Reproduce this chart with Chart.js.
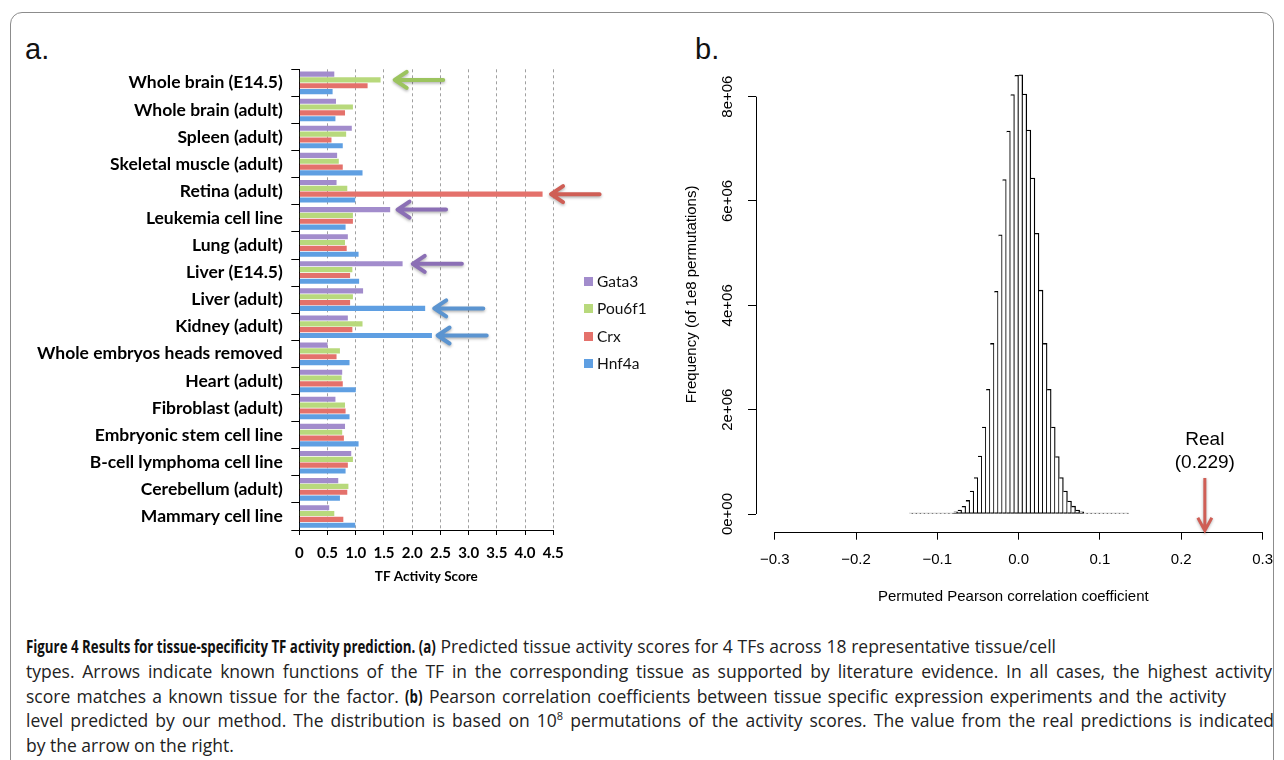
<!DOCTYPE html>
<html>
<head>
<meta charset="utf-8">
<script src="https://cdn.jsdelivr.net/npm/chart.js@4.4.1/dist/chart.umd.min.js"></script>
<style>
  body { margin: 0; width: 1284px; height: 760px; background: #fff; position: relative; overflow: hidden; }
  #frame { position: absolute; left: 10px; top: 12px; width: 1262px; height: 800px; border: 1px solid #8c8c8c; border-radius: 12px; }
  .tag { position: absolute; top: 35px; font-family: "Liberation Sans", Arial, sans-serif; font-size: 29px; line-height: 29px; color: #111; }
  #boxA { position: absolute; left: 0; top: 52px; }
  #boxB { position: absolute; left: 680px; top: 55px; }
  #legendA { position: absolute; left: 584px; top: 272px; font-family: Lato, sans-serif; font-size: 15.5px; color: #111; }
  #legendA div { height: 27.3px; line-height: 18px; white-space: nowrap; }
  #legendA span { display: inline-block; width: 9px; height: 9px; margin-right: 4px; vertical-align: 1px; }
  #caption { position: absolute; left: 26px; top: 634px; font-family: "Open Sans", sans-serif; font-size: 17.5px; line-height: 24.8px; color: #222; }
  #caption div { white-space: nowrap; height: 24.8px; }
  #caption div span { display: inline-block; }
  #caption b { color: #111; display: inline-block; word-spacing: 0; transform-origin: 0 50%; }
  #caption sup { font-size: 11px; line-height: 0; }
</style>
</head>
<body>
<div id="frame"></div>
<div class="tag" style="left:25px">a.</div>
<div class="tag" style="left:695px">b.</div>
<canvas id="boxA" width="680" height="548"></canvas>
<div id="legendA"></div>
<canvas id="boxB" width="604" height="555"></canvas>
<div id="caption">
  <div><span><b>Figure 4 Results for tissue-specificity TF activity prediction. (a)</b> Predicted tissue activity scores for 4 TFs across 18 representative tissue/cell</span></div>
  <div><span>types. Arrows indicate known functions of the TF in the corresponding tissue as supported by literature evidence. In all cases, the highest activity</span></div>
  <div><span>score matches a known tissue for the factor. <b>(b)</b> Pearson correlation coefficients between tissue specific expression experiments and the activity</span></div>
  <div><span>level predicted by our method. The distribution is based on 10<sup>8</sup> permutations of the activity scores. The value from the real predictions is indicated</span></div>
  <div><span>by the arrow on the right.</span></div>
</div>
<script>
// ---- panel a: activity scores ----
const tissues = ['Whole brain (E14.5)', 'Whole brain (adult)', 'Spleen (adult)', 'Skeletal muscle (adult)',
  'Retina (adult)', 'Leukemia cell line', 'Lung (adult)', 'Liver (E14.5)', 'Liver (adult)', 'Kidney (adult)',
  'Whole embryos heads removed', 'Heart (adult)', 'Fibroblast (adult)', 'Embryonic stem cell line',
  'B-cell lymphoma cell line', 'Cerebellum (adult)', 'Mammary cell line'];
const tfNames = ['Gata3', 'Pou6f1', 'Crx', 'Hnf4a'];
const gata3  = [0.62, 0.65, 0.93, 0.67, 0.66, 1.61, 0.86, 1.83, 1.13, 0.86, 0.50, 0.76, 0.64, 0.81, 0.92, 0.69, 0.53];
const pou6f1 = [1.44, 0.95, 0.83, 0.70, 0.85, 0.95, 0.81, 0.94, 0.95, 1.12, 0.72, 0.75, 0.81, 0.76, 0.95, 0.87, 0.62];
const crx    = [1.21, 0.81, 0.57, 0.77, 4.31, 0.95, 0.84, 0.90, 0.90, 0.94, 0.66, 0.77, 0.82, 0.79, 0.86, 0.85, 0.78];
const hnf4a  = [0.59, 0.64, 0.77, 1.12, 0.99, 0.82, 1.05, 1.06, 2.23, 2.35, 0.89, 1.00, 0.89, 1.05, 0.82, 0.72, 0.99];
const scoreTicks = [0, 0.5, 1, 1.5, 2, 2.5, 3, 3.5, 4, 4.5];

// arrows marking known tissue functions
const arrowTissue = ['Whole brain (E14.5)', 'Retina (adult)', 'Leukemia cell line', 'Liver (E14.5)', 'Liver (adult)', 'Kidney (adult)'];
const arrowTF     = ['Pou6f1', 'Crx', 'Gata3', 'Gata3', 'Hnf4a', 'Hnf4a'];
const arrowHead   = [1.69, 4.46, 1.74, 2.01, 2.39, 2.45];
const arrowTail   = [2.55, 5.32, 2.60, 2.88, 3.26, 3.32];

// ---- panel b: permutation histogram ----
const binCenters = [-0.1325, -0.1275, -0.1225, -0.1175, -0.1125, -0.1075, -0.1025, -0.0975, -0.0925,
  -0.0875, -0.0825, -0.0775, -0.0725, -0.0675, -0.0625, -0.0575, -0.0525, -0.0475, -0.0425, -0.0375,
  -0.0325, -0.0275, -0.0225, -0.0175, -0.0125, -0.0075, -0.0025,
  0.0025, 0.0075, 0.0125, 0.0175, 0.0225, 0.0275, 0.0325, 0.0375, 0.0425, 0.0475, 0.0525, 0.0575,
  0.0625, 0.0675, 0.0725, 0.0775, 0.0825, 0.0875, 0.0925, 0.0975, 0.1025, 0.1075, 0.1125, 0.1175,
  0.1225, 0.1275, 0.1325];
const binCounts = [20, 40, 80, 150, 300, 600, 1200, 2500, 5000,
  10000, 20000, 40000, 77000, 147000, 260000, 440000, 700000, 1110000, 1665000, 2390000,
  3270000, 4270000, 5350000, 6410000, 7340000, 8040000, 8410000,
  8420000, 8050000, 7360000, 6440000, 5380000, 4290000, 3270000, 2390000, 1665000, 1100000, 700000, 440000,
  250000, 150000, 77000, 40000, 20000, 10000, 5000, 2500, 1200, 600, 300, 150,
  80, 40, 20];
const corrTicks = [-0.3, -0.2, -0.1, 0, 0.1, 0.2, 0.3];
const freqTicks = [0, 2e6, 4e6, 6e6, 8e6];
const freqTickLabels = ['0e+00', '2e+06', '4e+06', '6e+06', '8e+06'];
const realValue = 0.229;

const tfColors = ['#a28ccc', '#b8d97c', '#e4716b', '#5f9fe2'];
const arrowColors = ['#8b6fb5', '#9cc45f', '#cf5e55', '#5b94d0'];
const boldCal = { family: 'Lato', weight: 'bold', size: 15 };
const helv = { family: '"Liberation Sans"', size: 15 };
// right edge (page x) of each caption line, and squeeze of the bold run-in heading
const captionLineEnds = [1056, 1272, 1226, 1274, null];
const boldSqueeze = 0.76;

// legend for panel a
document.getElementById('legendA').innerHTML = tfNames.map((n, i) =>
  '<div><span style="background:' + tfColors[i] + '"></span>' + n + '</div>').join('');

function setCaption() {
  // condensed bold heading
  document.querySelectorAll('#caption b').forEach(b => {
    const w = b.getBoundingClientRect().width;
    b.style.transform = 'scaleX(' + boldSqueeze + ')';
    b.style.marginRight = (-(1 - boldSqueeze) * w) + 'px';
  });
  // stretch lines with word spacing, like the typeset original
  document.querySelectorAll('#caption div span').forEach((line, i) => {
    if (!captionLineEnds[i]) return;
    let spaces = (line.textContent.match(/ /g) || []).length;
    line.querySelectorAll('b').forEach(b => { spaces -= (b.textContent.match(/ /g) || []).length; });
    const extra = captionLineEnds[i] - line.getBoundingClientRect().right;
    line.style.wordSpacing = Math.max(0, extra / spaces) + 'px';
  });
}

const arrowPlugin = {
  id: 'tfArrows',
  afterDatasetsDraw(chart) {
    const { ctx, scales: { x } } = chart;
    arrowTissue.forEach((t, i) => {
      const ds = tfNames.indexOf(arrowTF[i]);
      const bar = chart.getDatasetMeta(ds).data[tissues.indexOf(t)];
      const y = bar.y;
      const xh = x.getPixelForValue(arrowHead[i]);
      const xt = x.getPixelForValue(arrowTail[i]);
      ctx.save();
      ctx.strokeStyle = arrowColors[ds];
      ctx.lineWidth = 4;
      ctx.lineCap = 'round';
      ctx.lineJoin = 'round';
      ctx.shadowColor = 'rgba(0,0,0,0.3)';
      ctx.shadowBlur = 3;
      ctx.shadowOffsetY = 1.5;
      ctx.beginPath();
      ctx.moveTo(xt, y);
      ctx.lineTo(xh + 1, y);
      ctx.moveTo(xh + 12, y - 8);
      ctx.lineTo(xh, y);
      ctx.lineTo(xh + 12, y + 8);
      ctx.stroke();
      ctx.restore();
    });
  }
};

const rAxesPlugin = {
  id: 'rAxes',
  afterDraw(chart) {
    const { ctx, chartArea, scales: { x, y } } = chart;
    ctx.save();
    ctx.strokeStyle = '#000';
    ctx.lineWidth = 1;
    const by = Math.round(chartArea.bottom) + 0.5;
    const lx = Math.round(chartArea.left) + 0.5;
    ctx.beginPath();
    ctx.moveTo(x.getPixelForValue(corrTicks[0]), by);
    ctx.lineTo(x.getPixelForValue(corrTicks[corrTicks.length - 1]), by);
    ctx.moveTo(lx, y.getPixelForValue(freqTicks[0]));
    ctx.lineTo(lx, y.getPixelForValue(freqTicks[freqTicks.length - 1]));
    ctx.stroke();
    // rotated y tick labels, R style
    ctx.fillStyle = '#000';
    ctx.font = '15px "Liberation Sans"';
    ctx.textAlign = 'center';
    ctx.textBaseline = 'middle';
    freqTicks.forEach((v, i) => {
      ctx.save();
      ctx.translate(chartArea.left - 28, y.getPixelForValue(v));
      ctx.rotate(-Math.PI / 2);
      ctx.fillText(freqTickLabels[i], 0, 0);
      ctx.restore();
    });
    // real value marker
    const rx = x.getPixelForValue(realValue);
    ctx.font = '19px "Liberation Sans"';
    ctx.fillText('Real', rx, y.getPixelForValue(1.42e6));
    ctx.fillText('(' + realValue.toFixed(3) + ')', rx, y.getPixelForValue(0.98e6));
    const yTop = y.getPixelForValue(0.69e6);
    const yTip = chartArea.bottom;
    ctx.strokeStyle = '#cf5e55';
    ctx.lineWidth = 3;
    ctx.shadowColor = 'rgba(0,0,0,0.3)';
    ctx.shadowBlur = 3;
    ctx.shadowOffsetY = 1;
    ctx.beginPath();
    ctx.moveTo(rx, yTop);
    ctx.lineTo(rx, yTip - 1);
    ctx.moveTo(rx - 7, yTip - 14);
    ctx.lineTo(rx, yTip - 1);
    ctx.lineTo(rx + 7, yTip - 14);
    ctx.stroke();
    ctx.restore();
  }
};

function drawCharts() {
  setCaption();

  new Chart(document.getElementById('boxA'), {
    type: 'bar',
    data: {
      labels: tissues,
      datasets: [gata3, pou6f1, crx, hnf4a].map((d, i) => ({
        label: tfNames[i],
        data: d,
        backgroundColor: tfColors[i],
        borderWidth: 0,
        categoryPercentage: 0.86,
        barPercentage: 0.88
      }))
    },
    options: {
      indexAxis: 'y',
      responsive: false,
      animation: false,
      devicePixelRatio: 1,
      layout: { padding: { top: 17.3, right: 126.7, left: 0, bottom: 0 } },
      plugins: { legend: { display: false }, tooltip: { enabled: false } },
      scales: {
        x: {
          min: 0, max: 4.5,
          afterBuildTicks: s => { s.ticks = scoreTicks.map(v => ({ value: v })); },
          ticks: { font: boldCal, color: '#000', padding: 9 },
          grid: { color: c => (c.tick && c.tick.value === 0) ? 'rgba(0,0,0,0)' : '#a0a0a0', tickColor: '#000', tickLength: 5 },
          border: { color: '#000', dash: [3, 3] },
          title: { display: true, text: 'TF Activity Score', color: '#000',
            font: { family: 'Lato', weight: 'bold', size: 13.5 }, padding: { top: 0, bottom: 15 } },
          afterFit: s => { s.height = 70; }
        },
        y: {
          ticks: { font: { family: 'Lato', weight: 'bold', size: 17.5, lineHeight: 0.95 }, color: '#000', padding: 8.5 },
          grid: { drawOnChartArea: false, color: '#000', tickLength: 8, offset: true },
          border: { color: '#000' },
          afterFit: s => { s.width = 299.3; }
        }
      }
    },
    plugins: [arrowPlugin]
  });

  new Chart(document.getElementById('boxB'), {
    type: 'bar',
    data: {
      datasets: [{
        label: 'Permuted correlations',
        data: binCenters.map((c, i) => ({ x: c, y: binCounts[i] })),
        backgroundColor: '#fff',
        borderColor: '#000',
        borderWidth: 1.3,
        borderSkipped: 'left',
        minBarLength: 1,
        categoryPercentage: 1,
        barPercentage: 1
      }]
    },
    options: {
      responsive: false,
      animation: false,
      devicePixelRatio: 1,
      layout: { padding: { top: 2, right: 0, left: 0, bottom: 0 } },
      plugins: { legend: { display: false }, tooltip: { enabled: false } },
      scales: {
        x: {
          type: 'linear', offset: false,
          min: -0.323, max: 0.31,
          afterBuildTicks: s => { s.ticks = corrTicks.map(v => ({ value: v })); },
          ticks: { font: helv, color: '#000', padding: 11,
            callback: v => (v < 0 ? '\u2212' : '') + Math.abs(v).toFixed(1) },
          grid: { drawOnChartArea: false, color: '#000', tickLength: 8, offset: false },
          border: { display: false },
          title: { display: true, text: 'Permuted Pearson correlation coefficient', color: '#000',
            font: helv, padding: { top: 0, bottom: 4 } },
          afterFit: s => { s.height = 555 - 2 - 474.7; }
        },
        y: {
          min: -0.339e6, max: 8.76e6,
          afterBuildTicks: s => { s.ticks = freqTicks.map(v => ({ value: v })); },
          ticks: { display: false },
          grid: { drawOnChartArea: false, color: '#000', tickLength: 8 },
          border: { display: false },
          title: { display: true, text: 'Frequency (of 1e8 permutations)', color: '#000',
            font: helv, padding: { top: 3, bottom: 0 } },
          afterFit: s => { s.width = 76; }
        }
      }
    },
    plugins: [rAxesPlugin]
  });
}

Promise.all([
  document.fonts.load('bold 15px Lato'),
  document.fonts.load('15px "Liberation Sans"'),
  document.fonts.load('17px "Open Sans"'),
  document.fonts.load('bold 17px "Open Sans"')
]).then(drawCharts, drawCharts);
</script>
</body>
</html>
